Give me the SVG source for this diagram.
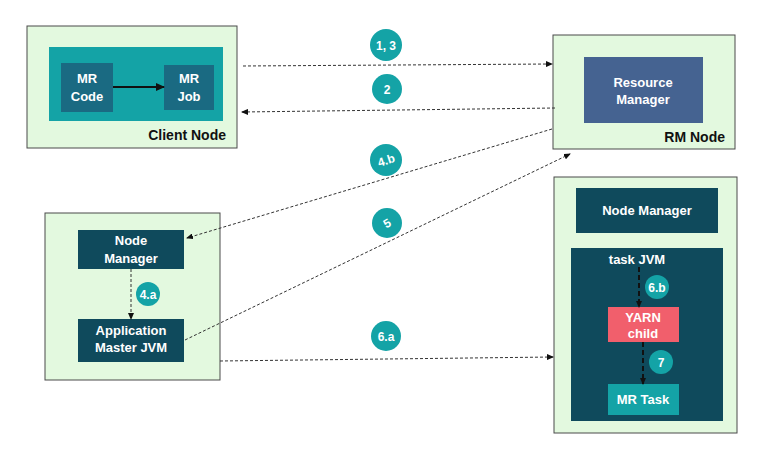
<svg xmlns="http://www.w3.org/2000/svg" width="778" height="449" viewBox="0 0 778 449">
<style>
.host{fill:#e3f9df;stroke:#4a4a4a;stroke-width:1}
.dark{fill:#0f4a5c}
.teal{fill:#14a3a6}
.t{font-family:"Liberation Sans",Arial,sans-serif;font-weight:bold;font-size:13px;fill:#ffffff;text-anchor:middle}
.lbl{font-family:"Liberation Sans",Arial,sans-serif;font-weight:bold;font-size:14px;fill:#111111;text-anchor:end}
.badge{fill:#14a3a6}
.bt{font-family:"Liberation Sans",Arial,sans-serif;font-weight:bold;font-size:12px;fill:#ffffff;text-anchor:middle}
.dash{fill:none;stroke:#333333;stroke-width:1;stroke-dasharray:3 2}
.bdash{fill:none;stroke:#111111;stroke-width:2;stroke-dasharray:5 3}
</style>
<defs>
<marker id="ah" markerWidth="7" markerHeight="6" refX="6" refY="3" orient="auto" markerUnits="userSpaceOnUse">
<path d="M0,0 L7,3 L0,6 Z" fill="#111111"/>
</marker>
<marker id="ahb" markerWidth="9" markerHeight="8" refX="8" refY="4" orient="auto" markerUnits="userSpaceOnUse">
<path d="M0,0 L9,4 L0,8 Z" fill="#111111"/>
</marker>
</defs>
<rect width="778" height="449" fill="#ffffff"/>

<g id="client-node">
<rect class="host" x="27" y="26" width="210" height="122"/>
<rect class="teal" x="49" y="47" width="174" height="74"/>
<text class="lbl" x="226" y="140">Client Node</text>
</g>
<g id="mr-code">
<rect x="61" y="63" width="52" height="49" fill="#1a6a82"/>
<text class="t" x="87" y="83">MR</text>
<text class="t" x="87" y="101">Code</text>
</g>
<g id="mr-job">
<rect x="164" y="65" width="50" height="45" fill="#1a6a82"/>
<text class="t" x="189" y="83">MR</text>
<text class="t" x="189" y="101">Job</text>
</g>

<g id="rm-node">
<rect class="host" x="553" y="35" width="182" height="114"/>
<text class="lbl" x="725" y="142">RM Node</text>
</g>
<g id="resource-manager">
<rect x="584" y="57" width="119" height="66" fill="#456391"/>
<text class="t" x="643" y="87">Resource</text>
<text class="t" x="643" y="104">Manager</text>
</g>

<g id="am-host">
<rect class="host" x="45" y="213" width="175" height="167"/>
</g>
<g id="node-manager-left">
<rect class="dark" x="78" y="230" width="106" height="39"/>
<text class="t" x="131" y="245">Node</text>
<text class="t" x="131" y="263">Manager</text>
</g>
<g id="app-master">
<rect class="dark" x="78" y="319" width="106" height="43"/>
<text class="t" x="131" y="335">Application</text>
<text class="t" x="131" y="352">Master JVM</text>
</g>

<g id="worker-host">
<rect class="host" x="554" y="177" width="183" height="256"/>
</g>
<g id="node-manager-right">
<rect class="dark" x="576" y="188" width="142" height="45"/>
<text class="t" x="647" y="215">Node Manager</text>
</g>
<g id="task-jvm">
<rect class="dark" x="571" y="248" width="152" height="173"/>
<text class="t" x="637" y="264">task JVM</text>
</g>
<g id="yarn-child">
<rect x="608" y="307" width="71" height="35" fill="#f15f6c"/>
<text class="t" x="643" y="322">YARN</text>
<text class="t" x="643" y="338">child</text>
</g>
<g id="mr-task">
<rect class="teal" x="608" y="384" width="71" height="31"/>
<text class="t" x="643" y="404">MR Task</text>
</g>

<g id="connectors">
<line x1="113" y1="87" x2="164" y2="87" stroke="#111111" stroke-width="2" marker-end="url(#ahb)"/>
<line class="dash" x1="243" y1="66" x2="552" y2="64" marker-end="url(#ah)"/>
<line class="dash" x1="555" y1="108" x2="242" y2="112" marker-end="url(#ah)"/>
<line class="dash" x1="552" y1="129" x2="187" y2="238" marker-end="url(#ah)"/>
<line class="dash" x1="185" y1="340" x2="570" y2="154" marker-end="url(#ah)"/>
<line class="dash" x1="220" y1="361" x2="553" y2="357" marker-end="url(#ah)"/>
<line class="dash" x1="131" y1="269" x2="131" y2="319" marker-end="url(#ah)"/>
<line class="bdash" x1="639" y1="267" x2="639" y2="307" marker-end="url(#ah)"/>
<line class="bdash" x1="643" y1="342" x2="643" y2="384" marker-end="url(#ah)"/>
</g>

<g id="badges">
<circle class="badge" cx="386" cy="45" r="16"/>
<text class="bt" x="386" y="49.5">1, 3</text>
<circle class="badge" cx="387" cy="89" r="15"/>
<text class="bt" x="387" y="93.5">2</text>
<circle class="badge" cx="386" cy="160" r="16"/>
<text class="bt" x="386" y="164.5" transform="rotate(-18 386 160)">4.b</text>
<circle class="badge" cx="387" cy="223" r="15"/>
<text class="bt" x="387" y="227.5" transform="rotate(-30 387 223)">5</text>
<circle class="badge" cx="386" cy="336" r="15"/>
<text class="bt" x="386" y="340.5">6.a</text>
<circle class="badge" cx="148" cy="294" r="12"/>
<text class="bt" x="148" y="298.5">4.a</text>
<circle class="badge" cx="657" cy="287" r="12"/>
<text class="bt" x="657" y="291.5">6.b</text>
<circle class="badge" cx="661" cy="362" r="12"/>
<text class="bt" x="661" y="366.5">7</text>
</g>
</svg>
